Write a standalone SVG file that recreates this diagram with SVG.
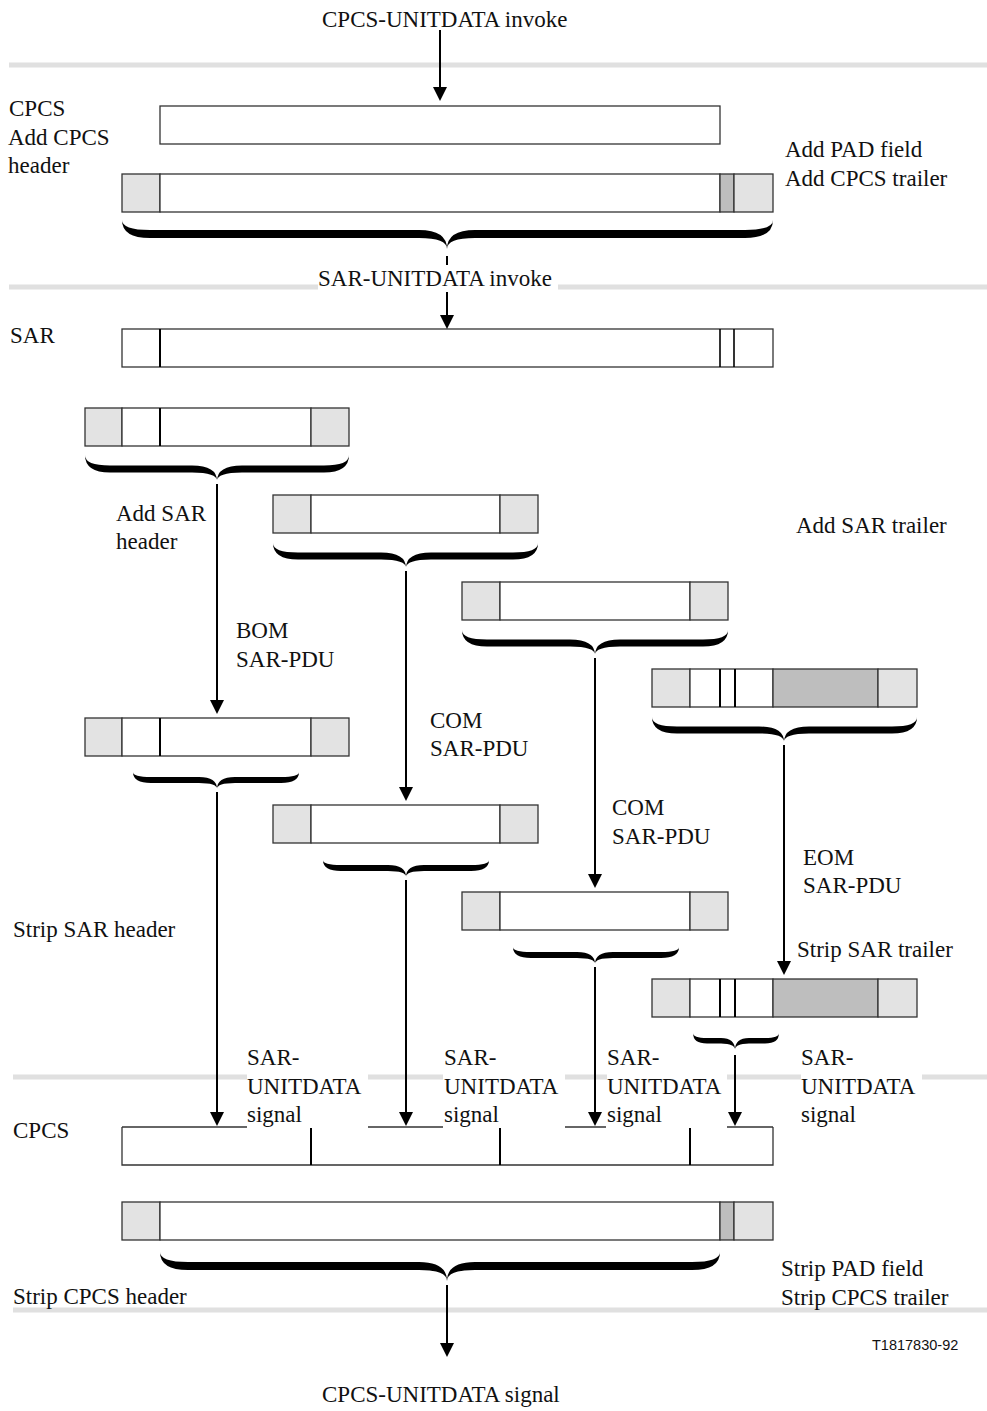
<svg xmlns="http://www.w3.org/2000/svg" width="987" height="1411" viewBox="0 0 987 1411">
<style>
  .bg{fill:#fff}
  .w{fill:#fff;stroke:#333;stroke-width:1.3}
  .lg{fill:#e3e3e3;stroke:#333;stroke-width:1.3}
  .dg{fill:#bebebe;stroke:#333;stroke-width:1.3}
  .sep{stroke:#e0e0e0;stroke-width:5;fill:none}
  .div{stroke:#000;stroke-width:2}
  .edge{stroke:#333;stroke-width:1.3;fill:none}
  .conn{stroke:#000;stroke-width:2;fill:none}
  .head{fill:#000}
  .brace{fill:#000}
  text{font-family:"Liberation Serif","Times New Roman",serif;font-size:23px;fill:#111}
  .code{font-family:"Liberation Sans",Arial,sans-serif;font-size:14.5px}
</style>
<rect class="bg" x="0" y="0" width="987" height="1411"/>

<g id="separators">
  <line class="sep" x1="9" y1="65" x2="987" y2="65"/>
  <line class="sep" x1="9" y1="287" x2="318" y2="287"/>
  <line class="sep" x1="558" y1="287" x2="987" y2="287"/>
  <line class="sep" x1="13" y1="1077" x2="247" y2="1077"/>
  <line class="sep" x1="368" y1="1077" x2="443" y2="1077"/>
  <line class="sep" x1="565" y1="1077" x2="607" y2="1077"/>
  <line class="sep" x1="727" y1="1077" x2="801" y2="1077"/>
  <line class="sep" x1="922" y1="1077" x2="987" y2="1077"/>
  <line class="sep" x1="13" y1="1310" x2="987" y2="1310"/>
</g>

<g id="labels">
  <text x="322" y="27">CPCS-UNITDATA invoke</text>
  <text x="9" y="116">CPCS</text>
  <text x="8" y="145">Add CPCS</text>
  <text x="8" y="173">header</text>
  <text x="785" y="157">Add PAD field</text>
  <text x="785" y="186">Add CPCS trailer</text>
  <text x="318" y="286">SAR-UNITDATA invoke</text>
  <text x="10" y="343">SAR</text>
  <text x="116" y="521">Add SAR</text>
  <text x="116" y="549">header</text>
  <text x="796" y="533">Add SAR trailer</text>
  <text x="236" y="638">BOM</text>
  <text x="236" y="667">SAR-PDU</text>
  <text x="430" y="728">COM</text>
  <text x="430" y="756">SAR-PDU</text>
  <text x="612" y="815">COM</text>
  <text x="612" y="844">SAR-PDU</text>
  <text x="803" y="865">EOM</text>
  <text x="803" y="893">SAR-PDU</text>
  <text x="13" y="937">Strip SAR header</text>
  <text x="797" y="957">Strip SAR trailer</text>
  <text x="247" y="1065">SAR-</text><text x="247" y="1094">UNITDATA</text><text x="247" y="1122">signal</text>
  <text x="444" y="1065">SAR-</text><text x="444" y="1094">UNITDATA</text><text x="444" y="1122">signal</text>
  <text x="607" y="1065">SAR-</text><text x="607" y="1094">UNITDATA</text><text x="607" y="1122">signal</text>
  <text x="801" y="1065">SAR-</text><text x="801" y="1094">UNITDATA</text><text x="801" y="1122">signal</text>
  <text x="13" y="1138">CPCS</text>
  <text x="781" y="1276">Strip PAD field</text>
  <text x="781" y="1305">Strip CPCS trailer</text>
  <text x="13" y="1304">Strip CPCS header</text>
  <text class="code" x="872" y="1350">T1817830-92</text>
  <text x="322" y="1402">CPCS-UNITDATA signal</text>
</g>

<g id="cpcs-sdu">
  <rect class="w" x="160" y="106" width="560" height="38"/>
</g>

<g id="cpcs-pdu">
  <rect class="lg" x="122" y="174" width="38" height="38"/>
  <rect class="w" x="160" y="174" width="560" height="38"/>
  <rect class="dg" x="720" y="174" width="14" height="38"/>
  <rect class="lg" x="734" y="174" width="39" height="38"/>
</g>

<g id="sar-sdu">
  <rect class="w" x="122" y="329" width="651" height="38"/>
  <line class="div" x1="160" y1="329" x2="160" y2="367"/>
  <line class="div" x1="720" y1="329" x2="720" y2="367" style="stroke-width:1.6"/>
  <line class="div" x1="734" y1="329" x2="734" y2="367" style="stroke-width:1.6"/>
</g>

<g id="bom-pdu">
  <rect class="lg" x="85" y="408" width="37" height="38"/>
  <rect class="w" x="122" y="408" width="189" height="38"/>
  <line class="div" x1="160" y1="408" x2="160" y2="446"/>
  <rect class="lg" x="311" y="408" width="38" height="38"/>
</g>
<g id="com1-pdu">
  <rect class="lg" x="273" y="495" width="38" height="38"/>
  <rect class="w" x="311" y="495" width="189" height="38"/>
  <rect class="lg" x="500" y="495" width="38" height="38"/>
</g>
<g id="com2-pdu">
  <rect class="lg" x="462" y="582" width="38" height="38"/>
  <rect class="w" x="500" y="582" width="190" height="38"/>
  <rect class="lg" x="690" y="582" width="38" height="38"/>
</g>
<g id="eom-pdu">
  <rect class="lg" x="652" y="669" width="38" height="38"/>
  <rect class="w" x="690" y="669" width="83" height="38"/>
  <line class="div" x1="720" y1="669" x2="720" y2="707"/>
  <line class="div" x1="735" y1="669" x2="735" y2="707"/>
  <rect class="dg" x="773" y="669" width="105" height="38"/>
  <rect class="lg" x="878" y="669" width="39" height="38"/>
</g>

<g id="bom-rx">
  <rect class="lg" x="85" y="718" width="37" height="38"/>
  <rect class="w" x="122" y="718" width="189" height="38"/>
  <line class="div" x1="160" y1="718" x2="160" y2="756"/>
  <rect class="lg" x="311" y="718" width="38" height="38"/>
</g>
<g id="com1-rx">
  <rect class="lg" x="273" y="805" width="38" height="38"/>
  <rect class="w" x="311" y="805" width="189" height="38"/>
  <rect class="lg" x="500" y="805" width="38" height="38"/>
</g>
<g id="com2-rx">
  <rect class="lg" x="462" y="892" width="38" height="38"/>
  <rect class="w" x="500" y="892" width="190" height="38"/>
  <rect class="lg" x="690" y="892" width="38" height="38"/>
</g>
<g id="eom-rx">
  <rect class="lg" x="652" y="979" width="38" height="38"/>
  <rect class="w" x="690" y="979" width="83" height="38"/>
  <line class="div" x1="720" y1="979" x2="720" y2="1017"/>
  <line class="div" x1="735" y1="979" x2="735" y2="1017"/>
  <rect class="dg" x="773" y="979" width="105" height="38"/>
  <rect class="lg" x="878" y="979" width="39" height="38"/>
</g>

<g id="cpcs-reassembly">
  <path class="edge" d="M122,1127 V1165 H773 V1127"/>
  <line class="edge" x1="122" y1="1127" x2="247" y2="1127"/>
  <line class="edge" x1="368" y1="1127" x2="443" y2="1127"/>
  <line class="edge" x1="565" y1="1127" x2="606" y2="1127"/>
  <line class="edge" x1="727" y1="1127" x2="773" y2="1127"/>
  <line class="div" x1="311" y1="1128" x2="311" y2="1165"/>
  <line class="div" x1="500" y1="1128" x2="500" y2="1165"/>
  <line class="div" x1="690" y1="1128" x2="690" y2="1165"/>
</g>

<g id="cpcs-pdu-rx">
  <rect class="lg" x="122" y="1202" width="38" height="38"/>
  <rect class="w" x="160" y="1202" width="560" height="38"/>
  <rect class="dg" x="720" y="1202" width="14" height="38"/>
  <rect class="lg" x="734" y="1202" width="39" height="38"/>
</g>

<g id="braces">
  <path class="brace" d="M122,220 Q122,230 150,230 L419,230 Q447,230 447,249 Q447,238 419,238 L150,238 Q122,238 122,220 Z M773,220 Q773,230 745,230 L475,230 Q447,230 447,249 Q447,238 475,238 L745,238 Q773,238 773,220 Z"/>
  <path class="brace" d="M85,455 Q85,465.5 110,465.5 L192,465.5 Q217,465.5 217,481 Q217,472.5 192,472.5 L110,472.5 Q85,472.5 85,455 Z M349,455 Q349,465.5 324,465.5 L242,465.5 Q217,465.5 217,481 Q217,472.5 242,472.5 L324,472.5 Q349,472.5 349,455 Z"/>
  <path class="brace" d="M273,543 Q273,552.5 298,552.5 L381,552.5 Q406,552.5 406,568 Q406,559.5 381,559.5 L298,559.5 Q273,559.5 273,543 Z M538,543 Q538,552.5 513,552.5 L431,552.5 Q406,552.5 406,568 Q406,559.5 431,559.5 L513,559.5 Q538,559.5 538,543 Z"/>
  <path class="brace" d="M462,630 Q462,639.5 487,639.5 L570,639.5 Q595,639.5 595,655 Q595,646.5 570,646.5 L487,646.5 Q462,646.5 462,630 Z M728,630 Q728,639.5 703,639.5 L620,639.5 Q595,639.5 595,655 Q595,646.5 620,646.5 L703,646.5 Q728,646.5 728,630 Z"/>
  <path class="brace" d="M652,717 Q652,726.5 677,726.5 L759,726.5 Q784,726.5 784,742 Q784,733.5 759,733.5 L677,733.5 Q652,733.5 652,717 Z M917,717 Q917,726.5 892,726.5 L809,726.5 Q784,726.5 784,742 Q784,733.5 809,733.5 L892,733.5 Q917,733.5 917,717 Z"/>
  <path class="brace" d="M133,772 Q133,777 151,777 L199,777 Q217,777 217,789 Q217,783 199,783 L151,783 Q133,783 133,772 Z M299,772 Q299,777 281,777 L235,777 Q217,777 217,789 Q217,783 235,783 L281,783 Q299,783 299,772 Z"/>
  <path class="brace" d="M323,860 Q323,865 341,865 L388,865 Q406,865 406,877 Q406,871 388,871 L341,871 Q323,871 323,860 Z M489,860 Q489,865 471,865 L424,865 Q406,865 406,877 Q406,871 424,871 L471,871 Q489,871 489,860 Z"/>
  <path class="brace" d="M513,947 Q513,952 531,952 L577,952 Q595,952 595,964 Q595,958 577,958 L531,958 Q513,958 513,947 Z M679,947 Q679,952 661,952 L613,952 Q595,952 595,964 Q595,958 613,958 L661,958 Q679,958 679,947 Z"/>
  <path class="brace" d="M693,1033 Q693,1038 707,1038 L721,1038 Q735,1038 735,1050 Q735,1043.5 721,1043.5 L707,1043.5 Q693,1043.5 693,1033 Z M779,1033 Q779,1038 765,1038 L749,1038 Q735,1038 735,1050 Q735,1043.5 749,1043.5 L765,1043.5 Q779,1043.5 779,1033 Z"/>
  <path class="brace" d="M160,1252 Q160,1262 188,1262 L419,1262 Q447,1262 447,1281 Q447,1270 419,1270 L188,1270 Q160,1270 160,1252 Z M720,1252 Q720,1262 692,1262 L475,1262 Q447,1262 447,1281 Q447,1270 475,1270 L692,1270 Q720,1270 720,1252 Z"/>
</g>

<g id="connectors">
  <line class="conn" x1="440" y1="30" x2="440" y2="88"/>
  <polygon class="head" points="433,87 447,87 440,101"/>
  <line class="conn" x1="447" y1="256" x2="447" y2="265"/>
  <line class="conn" x1="447" y1="292" x2="447" y2="316"/>
  <polygon class="head" points="440,315 454,315 447,329"/>
  <line class="conn" x1="217" y1="484" x2="217" y2="701"/>
  <polygon class="head" points="210,700 224,700 217,714"/>
  <line class="conn" x1="406" y1="571" x2="406" y2="788"/>
  <polygon class="head" points="399,787 413,787 406,801"/>
  <line class="conn" x1="595" y1="658" x2="595" y2="875"/>
  <polygon class="head" points="588,874 602,874 595,888"/>
  <line class="conn" x1="784" y1="745" x2="784" y2="962"/>
  <polygon class="head" points="777,961 791,961 784,975"/>
  <line class="conn" x1="217" y1="792" x2="217" y2="1113"/>
  <polygon class="head" points="210,1112 224,1112 217,1126"/>
  <line class="conn" x1="406" y1="880" x2="406" y2="1113"/>
  <polygon class="head" points="399,1112 413,1112 406,1126"/>
  <line class="conn" x1="595" y1="967" x2="595" y2="1113"/>
  <polygon class="head" points="588,1112 602,1112 595,1126"/>
  <line class="conn" x1="735" y1="1055" x2="735" y2="1113"/>
  <polygon class="head" points="728,1112 742,1112 735,1126"/>
  <line class="conn" x1="447" y1="1285" x2="447" y2="1344"/>
  <polygon class="head" points="440,1343 454,1343 447,1357"/>
</g>
</svg>
